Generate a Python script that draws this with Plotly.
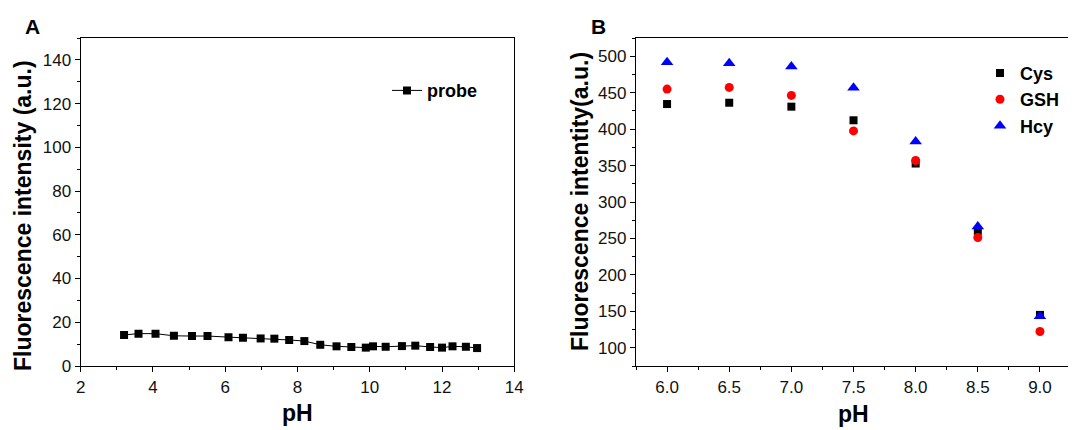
import plotly.graph_objects as go

# panel A: probe alone over pH
ph_a = [3.20, 3.60, 4.07, 4.58, 5.08, 5.51, 6.09, 6.49, 6.98, 7.36, 7.77, 8.19, 8.63,
        9.08, 9.49, 9.89, 10.09, 10.44, 10.89, 11.26, 11.67, 12.00, 12.29, 12.66, 12.97]
probe = [14.2, 14.8, 14.8, 13.8, 13.7, 13.7, 13.2, 12.9, 12.6, 12.5, 11.9, 11.4, 9.7,
         9.0, 8.7, 8.4, 9.0, 8.8, 9.1, 9.3, 8.7, 8.4, 9.0, 8.8, 8.2]

# panel B: probe + thiols
ph_b = [6.0, 6.5, 7.0, 7.5, 8.0, 8.5, 9.0]
cys = [434.4, 436.2, 430.8, 412.1, 352.8, 260.4, 145.1]
gsh = [454.9, 457.2, 446.2, 397.5, 357.0, 251.3, 122.3]
hcy = [491.8, 490.4, 485.9, 456.7, 382.9, 266.3, 143.3]

# page body has an 8px margin, so the figure is 8px smaller than the window
OFF = 8
W, H = 1076 - OFF, 430 - OFF
FONT = "Arial, Liberation Sans, sans-serif"

def px_x(p):
    return (p - OFF) / W

def px_y(p):
    return 1 - (p - OFF) / H

fig = go.Figure()

fig.add_trace(go.Scatter(x=ph_a, y=probe, name="probe", mode="lines+markers",
                         line=dict(color="black", width=1),
                         marker=dict(symbol="square", size=8, color="black"),
                         xaxis="x", yaxis="y", legend="legend"))

fig.add_trace(go.Scatter(x=ph_b, y=cys, name="Cys", mode="markers",
                         marker=dict(symbol="square", size=8, color="black"),
                         xaxis="x2", yaxis="y2", legend="legend2"))
fig.add_trace(go.Scatter(x=ph_b, y=gsh, name="GSH", mode="markers",
                         marker=dict(symbol="circle", size=9, color="red"),
                         xaxis="x2", yaxis="y2", legend="legend2"))
fig.add_trace(go.Scatter(x=ph_b, y=hcy, name="Hcy", mode="markers",
                         marker=dict(symbol="triangle-up", size=11, color="blue"),
                         xaxis="x2", yaxis="y2", legend="legend2"))

ax = dict(showline=True, linecolor="black", linewidth=1.3, mirror=True,
          ticks="outside", ticklen=5, tickwidth=1.2, tickcolor="black",
          showgrid=False, zeroline=False, automargin=False,
          tickfont=dict(family=FONT, size=17, color="#111"))

ydom = [px_y(366), px_y(38)]

fig.update_layout(
    width=W, height=H,
    margin=dict(l=0, r=0, t=0, b=0, autoexpand=False),
    paper_bgcolor="white", plot_bgcolor="white",
    font=dict(family=FONT, color="black"),
    xaxis=dict(ax, domain=[px_x(80.7), px_x(514.3)], range=[2, 14], dtick=2,
               minor=dict(ticks="outside", ticklen=3, dtick=1, tickcolor="black"),
               anchor="y"),
    yaxis=dict(ax, domain=ydom, range=[0, 150], dtick=20,
               minor=dict(ticks="outside", ticklen=3, dtick=10, tickcolor="black"),
               anchor="x"),
    xaxis2=dict(ax, domain=[px_x(636), 1.0], range=[5.75, 9.29], tick0=6, dtick=0.5,
                tickformat=".1f",
                minor=dict(ticks="outside", ticklen=3, tick0=6, dtick=0.25, tickcolor="black"),
                anchor="y2"),
    yaxis2=dict(ax, domain=ydom, range=[75, 525], tick0=100, dtick=50,
                minor=dict(ticks="outside", ticklen=3, tick0=100, dtick=25, tickcolor="black"),
                anchor="x2"),
    legend=dict(x=px_x(387), y=px_y(90.7), xanchor="left", yanchor="middle",
                bgcolor="rgba(0,0,0,0)",
                font=dict(family=FONT, size=18, color="black", weight="bold")),
    legend2=dict(x=px_x(980), y=px_y(99.7), xanchor="left", yanchor="middle",
                 bgcolor="rgba(0,0,0,0)",
                 font=dict(family=FONT, size=18, color="black", weight="bold")),
    showlegend=True,
)

title_font = dict(family=FONT, size=23, color="black", weight="bold")
notes = [
    dict(text="A", x=px_x(32), y=px_y(27), font=dict(family=FONT, size=21, color="black", weight="bold")),
    dict(text="B", x=px_x(598), y=px_y(26), font=dict(family=FONT, size=21, color="black", weight="bold")),
    dict(text="pH", x=px_x(297.5), y=px_y(413), font=title_font),
    dict(text="pH", x=px_x(853), y=px_y(414), font=title_font),
    dict(text="Fluorescence intensity (a.u.)", x=px_x(23), y=px_y(216), textangle=-90, font=title_font),
    dict(text="Fluorescence intentity(a.u.)", x=px_x(580), y=px_y(202), textangle=-90, font=title_font),
]
for n in notes:
    fig.add_annotation(xref="paper", yref="paper", showarrow=False,
                       xanchor="center", yanchor="middle", **n)

fig.write_html("out.html")
